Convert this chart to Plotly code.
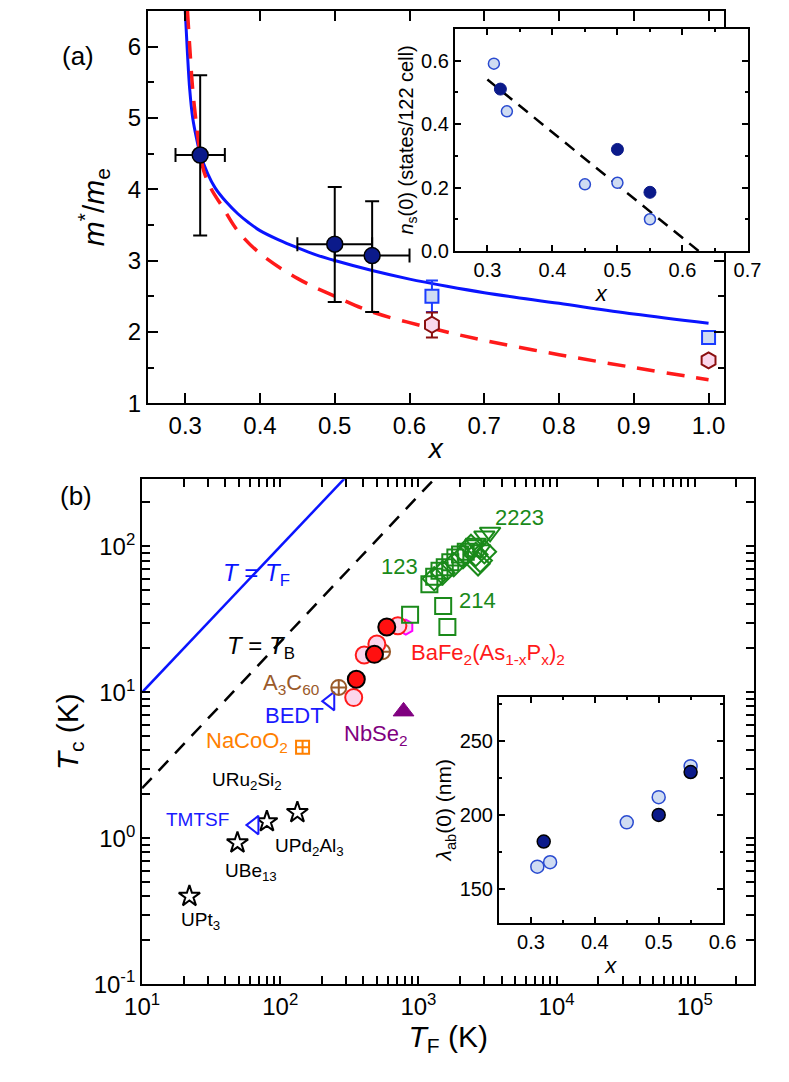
import numpy as np
import plotly.graph_objects as go

# ---- panel (a): effective mass vs x
x_main = [0.32, 0.50, 0.55]
m_main = [4.48, 3.23, 3.07]
m_err_hi = [1.12, 0.80, 0.76]
m_err_lo = [1.13, 0.81, 0.79]
x_err = [0.033, 0.05, 0.05]
x_sq = [0.63, 1.0]
m_sq = [2.5, 1.92]
x_hex = [0.63, 1.0]
m_hex = [2.1, 1.6]
x_blue = [0.300, 0.303, 0.306, 0.31, 0.315, 0.32, 0.33, 0.34, 0.355, 0.37, 0.385, 0.40, 0.425, 0.45, 0.475,
          0.50, 0.55, 0.60, 0.65, 0.70, 0.80, 0.90, 1.00]
m_blue = [6.5, 5.9, 5.4, 5.0, 4.72, 4.5, 4.22, 4.02, 3.82, 3.66, 3.53, 3.42, 3.29, 3.18, 3.08,
          3.0, 2.86, 2.74, 2.64, 2.55, 2.40, 2.25, 2.12]
x_red = [0.303, 0.306, 0.31, 0.315, 0.32, 0.325, 0.335, 0.35, 0.37, 0.40, 0.45, 0.50, 0.55, 0.63, 0.70, 0.80, 0.90, 1.00]
m_red = [6.5, 6.0, 5.4, 4.9, 4.5, 4.25, 4.0, 3.75, 3.42, 3.1, 2.75, 2.5, 2.28, 2.05, 1.88, 1.68, 1.5, 1.33]

# inset (a): superfluid density
x_ns_open = [0.31, 0.33, 0.45, 0.50, 0.55]
ns_open = [0.59, 0.44, 0.21, 0.215, 0.10]
x_ns_fill = [0.32, 0.50, 0.55]
ns_fill = [0.51, 0.32, 0.185]
x_ns_line = [0.30, 0.625]
ns_line = [0.54, 0.0]

# ---- panel (b): Uemura-type plot
tf_line = [10, 300]
tb_line = [10, 1350]
tb_vals = [2.2, 300]
stars_tf = [22, 49, 80, 133]
stars_tc = [0.4, 0.93, 1.3, 1.5]
tri_tf = [65, 230]
tri_tc = [1.23, 8.7]
naco_tf = [145]
naco_tc = [4.2]
c60_tf = [265, 550]
c60_tc = [10.8, 19]
nbse_tf = [780]
nbse_tc = [7.4]
ba_fill_tf = [355, 480, 590]
ba_fill_tc = [12.3, 18.2, 28]
ba_open_tf = [340, 405, 500, 710]
ba_open_tc = [9.2, 18, 21.4, 28.6]
hex_tf = [810]
hex_tc = [28]
cu_sq_tf = [870, 1510, 1620, 1200, 1300, 1420, 1550, 1700, 1850, 2000, 2200, 2500]
cu_sq_tc = [34, 39, 28, 55, 62, 68, 72, 78, 84, 88, 92, 97]
cu_di_tf = [1300, 1500, 1800, 2100, 2400, 2600, 2800, 3000, 2700]
cu_di_tc = [60, 66, 75, 85, 100, 88, 80, 92, 76]
cu_tr_tf = [2600, 3000, 3300, 2800]
cu_tr_tc = [105, 118, 125, 95]

# inset (b): penetration depth
x_lam_open = [0.31, 0.33, 0.45, 0.50, 0.55]
lam_open = [165, 168, 195, 212, 233]
x_lam_fill = [0.32, 0.50, 0.55]
lam_fill = [182, 200, 229]

DARK = "#0b1a8a"
LIGHT = "#cfdcf2"
LBORD = "#2a4bd0"
GREEN = "#1a8a1a"
FONT = "Liberation Sans"

fig = go.Figure()

# (a) main
fig.add_trace(go.Scatter(x=x_blue, y=m_blue, mode="lines", line=dict(color="#0a14ff", width=3, shape="spline"), xaxis="x", yaxis="y"))
fig.add_trace(go.Scatter(x=x_red, y=m_red, mode="lines", line=dict(color="#ff1a1a", width=3.5, dash="18px,12px", shape="spline"), xaxis="x", yaxis="y"))
fig.add_trace(go.Scatter(x=x_main, y=m_main, mode="markers",
                         marker=dict(size=16, color=DARK, line=dict(color="black", width=1.5)),
                         error_x=dict(type="data", array=x_err, color="black", thickness=2, width=7),
                         error_y=dict(type="data", array=m_err_hi, arrayminus=m_err_lo, color="black", thickness=2, width=7),
                         xaxis="x", yaxis="y"))
fig.add_trace(go.Scatter(x=x_sq, y=m_sq, mode="markers",
                         marker=dict(symbol="square", size=13, color=LIGHT, line=dict(color="#1a3cff", width=2)),
                         error_y=dict(type="data", array=[0.22, 0], arrayminus=[0.22, 0], color="#1a3cff", thickness=2, width=6),
                         xaxis="x", yaxis="y"))
fig.add_trace(go.Scatter(x=x_hex, y=m_hex, mode="markers",
                         marker=dict(symbol="hexagon", size=16, color="#fbd8ec", line=dict(color="#8b1010", width=2)),
                         error_y=dict(type="data", array=[0.17, 0], arrayminus=[0.18, 0], color="#8b1010", thickness=2, width=6),
                         xaxis="x", yaxis="y"))

# (a) inset
fig.add_trace(go.Scatter(x=x_ns_line, y=ns_line, mode="lines", line=dict(color="black", width=2.5, dash="12px,8px"), xaxis="x2", yaxis="y2"))
fig.add_trace(go.Scatter(x=x_ns_open, y=ns_open, mode="markers",
                         marker=dict(size=11, color=LIGHT, line=dict(color=LBORD, width=1.5)), xaxis="x2", yaxis="y2"))
fig.add_trace(go.Scatter(x=x_ns_fill, y=ns_fill, mode="markers",
                         marker=dict(size=12, color=DARK, line=dict(color=DARK, width=1)), xaxis="x2", yaxis="y2"))

# (b) main
fig.add_trace(go.Scatter(x=tf_line, y=tf_line, mode="lines", line=dict(color="#0a14ff", width=2.5), xaxis="x3", yaxis="y3"))
fig.add_trace(go.Scatter(x=tb_line, y=tb_vals, mode="lines", line=dict(color="black", width=2.5, dash="14px,10px"), xaxis="x3", yaxis="y3"))
fig.add_trace(go.Scatter(x=stars_tf, y=stars_tc, mode="markers",
                         marker=dict(symbol="star", size=16, color="white", line=dict(color="black", width=2)), xaxis="x3", yaxis="y3"))
fig.add_trace(go.Scatter(x=tri_tf, y=tri_tc, mode="markers",
                         marker=dict(symbol="triangle-left", size=16, color="white", line=dict(color="#1a1aff", width=2)), xaxis="x3", yaxis="y3"))
fig.add_trace(go.Scatter(x=naco_tf, y=naco_tc, mode="markers",
                         marker=dict(symbol="square-cross", size=13, color="white", line=dict(color="#ff8000", width=2)), xaxis="x3", yaxis="y3"))
fig.add_trace(go.Scatter(x=c60_tf, y=c60_tc, mode="markers",
                         marker=dict(symbol="circle-cross", size=15, color="rgba(0,0,0,0)", line=dict(color="#9a5a2a", width=2)), xaxis="x3", yaxis="y3"))
fig.add_trace(go.Scatter(x=nbse_tf, y=nbse_tc, mode="markers",
                         marker=dict(symbol="triangle-up", size=18, color="#800080", line=dict(color="#800080", width=1)), xaxis="x3", yaxis="y3"))
fig.add_trace(go.Scatter(x=hex_tf, y=hex_tc, mode="markers",
                         marker=dict(symbol="hexagon", size=15, color="#f8d8f0", line=dict(color="#ff00ff", width=2)), xaxis="x3", yaxis="y3"))
fig.add_trace(go.Scatter(x=ba_open_tf, y=ba_open_tc, mode="markers",
                         marker=dict(size=17, color="#fcd6ec", line=dict(color="#ff1a1a", width=2)), xaxis="x3", yaxis="y3"))
fig.add_trace(go.Scatter(x=ba_fill_tf, y=ba_fill_tc, mode="markers",
                         marker=dict(size=17, color="#ff1010", line=dict(color="black", width=2)), xaxis="x3", yaxis="y3"))
fig.add_trace(go.Scatter(x=cu_sq_tf, y=cu_sq_tc, mode="markers",
                         marker=dict(symbol="square-open", size=16, color=GREEN, line=dict(width=2)), xaxis="x3", yaxis="y3"))
fig.add_trace(go.Scatter(x=cu_di_tf, y=cu_di_tc, mode="markers",
                         marker=dict(symbol="diamond-open", size=18, color=GREEN, line=dict(width=2)), xaxis="x3", yaxis="y3"))
fig.add_trace(go.Scatter(x=cu_tr_tf, y=cu_tr_tc, mode="markers",
                         marker=dict(symbol="triangle-down-open", size=18, color=GREEN, line=dict(width=2)), xaxis="x3", yaxis="y3"))

# (b) inset
fig.add_trace(go.Scatter(x=x_lam_open, y=lam_open, mode="markers",
                         marker=dict(size=13, color=LIGHT, line=dict(color=LBORD, width=1.5)), xaxis="x4", yaxis="y4"))
fig.add_trace(go.Scatter(x=x_lam_fill, y=lam_fill, mode="markers",
                         marker=dict(size=13, color=DARK, line=dict(color="black", width=1.5)), xaxis="x4", yaxis="y4"))

ax = dict(showline=True, linecolor="black", linewidth=2, mirror="ticks", ticks="inside",
          tickcolor="black", tickwidth=2, showgrid=False, zeroline=False,
          tickfont=dict(size=24, color="black", family=FONT))
inax = dict(ax, tickfont=dict(size=20, color="black", family=FONT), ticklen=6)

W, H = 789, 1082
def dx(a, b): return [a / W, b / W]
def dy(top, bot): return [1 - bot / H, 1 - top / H]

# log axis ticks: majors labelled, minors (2..9 per decade) blank
y_dec = [0.1, 1, 10, 100]
y_lab = ["10<sup>-1</sup>", "10<sup>0</sup>", "10<sup>1</sup>", "10<sup>2</sup>"]
x_dec = [10, 100, 1000, 1e4, 1e5]
x_lab = ["10<sup>1</sup>", "10<sup>2</sup>", "10<sup>3</sup>", "10<sup>4</sup>", "10<sup>5</sup>"]
yv, yt, xv, xt = [], [], [], []
for d, l in zip(y_dec, y_lab):
    for k in range(1, 10):
        yv.append(d * k)
        yt.append(l if k == 1 else "")
for d, l in zip(x_dec, x_lab):
    for k in range(1, 10):
        xv.append(d * k)
        xt.append(l if k == 1 else "")

fig.update_layout(
    width=W, height=H, showlegend=False, plot_bgcolor="white", paper_bgcolor="white",
    margin=dict(l=0, r=0, t=0, b=0), font=dict(family=FONT, color="black"),
    xaxis=dict(ax, domain=dx(127, 727), range=[0.25, 1.02], tickvals=[0.3, 0.4, 0.5, 0.6, 0.7, 0.8, 0.9, 1.0],
               ticktext=["0.3", "0.4", "0.5", "0.6", "0.7", "0.8", "0.9", "1.0"], anchor="y", ticklen=10,
               title=dict(text="<i>x</i>", font=dict(size=28), standoff=0)),
    yaxis=dict(ax, domain=dy(3, 400), range=[1, 6.5], dtick=1, anchor="x", ticklen=10,
               minor=dict(ticks="inside", dtick=0.5, ticklen=6, tickcolor="black", tickwidth=2),
               title=dict(text="<i>m</i><sup>*</sup>/<i>m</i><sub>e</sub>", font=dict(size=30), standoff=14)),
    xaxis2=dict(inax, domain=dx(447, 752), range=[0.25, 0.7], dtick=0.1, anchor="y2",
                minor=dict(ticks="inside", dtick=0.05, ticklen=3, tickcolor="black", tickwidth=1.5),
                title=dict(text="<i>x</i>", font=dict(size=22), standoff=0)),
    yaxis2=dict(inax, domain=dy(21, 246), range=[0, 0.7], tickvals=[0, 0.2, 0.4, 0.6],
                ticktext=["0.0", "0.2", "0.4", "0.6"], anchor="x2",
                minor=dict(ticks="inside", dtick=0.1, ticklen=3, tickcolor="black", tickwidth=1.5),
                title=dict(text="<i>n</i><sub>s</sub>(0) (states/122 cell)", font=dict(size=20), standoff=2)),
    xaxis3=dict(ax, type="log", domain=dx(121, 759), range=[1, 5.43], tickvals=xv, ticktext=xt, anchor="y3", ticklen=8,
                title=dict(text="<i>T</i><sub>F</sub> (K)", font=dict(size=30), standoff=0)),
    yaxis3=dict(ax, type="log", domain=dy(477, 988), range=[-1, 2.46], tickvals=yv, ticktext=yt, anchor="x3", ticklen=8,
                title=dict(text="<i>T</i><sub>c</sub> (K)", font=dict(size=30), standoff=6)),
    xaxis4=dict(inax, domain=dx(493, 726), range=[0.25, 0.6], dtick=0.1, anchor="y4",
                minor=dict(ticks="inside", dtick=0.05, ticklen=3, tickcolor="black", tickwidth=1.5),
                title=dict(text="<i>x</i>", font=dict(size=22), standoff=0)),
    yaxis4=dict(inax, domain=dy(697, 926), range=[127, 280], dtick=50, anchor="x4",
                minor=dict(ticks="inside", dtick=25, ticklen=3, tickcolor="black", tickwidth=1.5),
                title=dict(text="<i>λ</i><sub>ab</sub>(0) (nm)", font=dict(size=21), standoff=2)),
)

labels = [
    ("<i>T</i> = <i>T</i><sub>F</sub>", 1.83, 1.81, "#0a14ff", 24),
    ("<i>T</i> = <i>T</i><sub>B</sub>", 1.86, 1.31, "black", 24),
    ("123", 2.86, 1.86, GREEN, 22),
    ("2223", 3.73, 2.2, GREEN, 22),
    ("214", 3.43, 1.63, GREEN, 22),
    ("BaFe<sub>2</sub>(As<sub>1-x</sub>P<sub>x</sub>)<sub>2</sub>", 3.50, 1.26, "#ff1a1a", 22),
    ("A<sub>3</sub>C<sub>60</sub>", 2.08, 1.06, "#9a5a2a", 22),
    ("BEDT", 2.10, 0.84, "#1a1aff", 22),
    ("NaCoO<sub>2</sub>", 1.76, 0.66, "#ff8000", 22),
    ("NbSe<sub>2</sub>", 2.69, 0.71, "#800080", 22),
    ("URu<sub>2</sub>Si<sub>2</sub>", 1.76, 0.39, "black", 19),
    ("TMTSF", 1.40, 0.13, "#1a1aff", 19),
    ("UPd<sub>2</sub>Al<sub>3</sub>", 2.21, -0.06, "black", 19),
    ("UBe<sub>13</sub>", 1.79, -0.23, "black", 19),
    ("UPt<sub>3</sub>", 1.42, -0.57, "black", 19),
]
for t, lx, ly, c, s in labels:
    fig.add_annotation(text=t, x=lx, y=ly, xref="x3", yref="y3", showarrow=False,
                       font=dict(size=s, color=c, family=FONT))

fig.add_annotation(text="(a)", x=35 / W, y=1 - 31 / H, xref="paper", yref="paper", showarrow=False, font=dict(size=26))
fig.add_annotation(text="(b)", x=33 / W, y=1 - 494 / H, xref="paper", yref="paper", showarrow=False, font=dict(size=26))

fig.write_html("out.html")
